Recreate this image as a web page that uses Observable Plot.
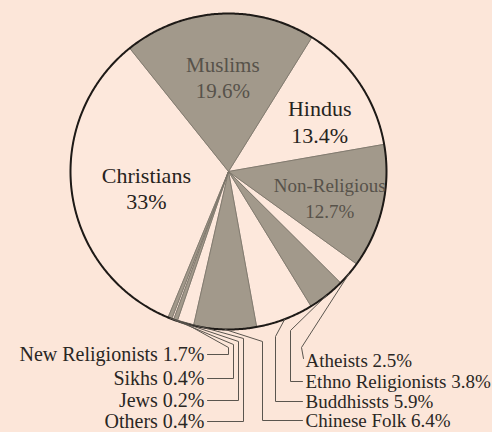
<!DOCTYPE html>
<html><head><meta charset="utf-8">
<script src="https://cdn.jsdelivr.net/npm/d3@7"></script>
<script src="https://cdn.jsdelivr.net/npm/@observablehq/plot@0.6"></script>
<style>html,body{margin:0;padding:0;background:#fce6d9;} #chart{width:492px;height:432px;overflow:hidden;}</style>
</head><body><div id="chart"></div>
<script>
// ---- data ----
const religions = ["Christians","Muslims","Hindus","Non-Religious","Atheists","Ethno Religionists","Buddhissts","Chinese Folk","New Religionists","Sikhs","Jews","Others"];
const shares = [33, 19.6, 13.4, 12.7, 2.5, 3.8, 5.9, 6.4, 1.7, 0.4, 0.2, 0.4];
const shareLabels = ["33%","19.6%","13.4%","12.7%","2.5%","3.8%","5.9%","6.4%","1.7%","0.4%","0.2%","0.4%"];

// ---- layout ----
const W = 492, H = 432, CX = 228, CY = 171, R = 158;
const START = -157.5; // degrees clockwise from 12 o'clock
const X = px => (px - CX) / R, Y = py => (CY - py) / R;
const total = d3.sum(shares);
let acc = START;
const slices = religions.map((name, i) => {
  const a0 = acc, a1 = acc + shares[i] / total * 360; acc = a1;
  return {name, i, a0, a1, mid: (a0 + a1) / 2, label: shareLabels[i], grey: i % 2 === 1};
});
const pt = (deg, r) => { const t = deg * Math.PI / 180; return {x: r * Math.sin(t), y: r * Math.cos(t)}; };
const wedgePts = slices.flatMap(s => {
  const n = Math.max(2, Math.ceil((s.a1 - s.a0) / 0.5));
  const pts = [{name: s.name, grey: s.grey, x: 0, y: 0}];
  for (let k = 0; k <= n; k++) pts.push({name: s.name, grey: s.grey, ...pt(s.a0 + (s.a1 - s.a0) * k / n, 1)});
  pts.push({name: s.name, grey: s.grey, x: 0, y: 0});
  return pts;
});
const circle = d3.range(0, 361, 0.5).map(a => pt(a, 1));

// inner labels: [radius, angle offset, font size, line height]
const innerPos = {"Christians": [0.53, -3, 22, 1.2], "Muslims": [0.6, 0, 21, 1.25], "Hindus": [0.66, 5, 22, 1.2], "Non-Religious": [0.66, 1, 19, 1.35]};
const innerLabels = slices.filter(s => innerPos[s.name]).map(s => {
  const [r, da, fs, lh] = innerPos[s.name];
  return {...pt(s.mid + da, r), text: s.name + "\n" + s.label, grey: s.grey, fs, lh};
});

// outer labels with leaders (pixel layout)
const outerLayout = {
  "Atheists":           {side: "right", ly: 360, path: [[301, 347], [303, 358]]},
  "Ethno Religionists": {side: "right", ly: 381, path: [[290, 330], [290, 381], [302, 381]]},
  "Buddhissts":         {side: "right", ly: 401, path: [[275, 336], [275, 401], [302, 401]]},
  "Chinese Folk":       {side: "right", ly: 420, path: [[262, 341], [262, 420], [302, 420]]},
  "New Religionists":   {side: "left",  ly: 354, path: [[228, 347], [228, 354], [207, 354]]},
  "Sikhs":              {side: "left",  ly: 378, path: [[233, 344], [233, 378], [207, 378]]},
  "Jews":               {side: "left",  ly: 400, path: [[238, 341], [238, 400], [207, 400]]},
  "Others":             {side: "left",  ly: 421, path: [[243, 338], [243, 421], [207, 421]]}
};
const outerLabels = [], leaders = [];
slices.filter(s => outerLayout[s.name]).forEach(s => {
  const L = outerLayout[s.name];
  outerLabels.push({x: X(L.side === "right" ? 305 : 204), y: Y(L.ly), text: s.name + " " + s.label, side: L.side});
  leaders.push({name: s.name, ...pt(s.mid, 1)});
  L.path.forEach(([px, py]) => leaders.push({name: s.name, x: X(px), y: Y(py)}));
});

const font = "Liberation Serif, Times New Roman, serif";
const innerMarks = innerLabels.map(d => Plot.text([d], {x: "x", y: "y", text: "text", fontSize: d.fs, lineHeight: d.lh, fill: d.grey ? "#57524a" : "#262320"}));
const chart = Plot.plot({
  width: W, height: H, margin: 0,
  x: {domain: [X(0), X(W)], axis: null},
  y: {domain: [Y(H), Y(0)], axis: null},
  style: {background: "#fce6d9", fontFamily: font},
  marks: [
    Plot.line(wedgePts.filter(d => !d.grey), {x: "x", y: "y", z: "name", fill: "#fde8dc", stroke: "#8a8378", strokeWidth: 0.8}),
    Plot.line(wedgePts.filter(d => d.grey), {x: "x", y: "y", z: "name", fill: "#a2998b", stroke: "#7a7368", strokeWidth: 0.8}),
    Plot.line(circle, {x: "x", y: "y", stroke: "#1e1a17", strokeWidth: 2}),
    Plot.line(leaders, {x: "x", y: "y", z: "name", stroke: "#5a554e", strokeWidth: 1}),
    ...innerMarks,
    Plot.text(outerLabels.filter(d => d.side === "right"), {x: "x", y: "y", text: "text", textAnchor: "start", fontSize: 19, fill: "#2a2724"}),
    Plot.text(outerLabels.filter(d => d.side === "left"), {x: "x", y: "y", text: "text", textAnchor: "end", fontSize: 20, fill: "#2a2724"})
  ]
});
document.getElementById("chart").appendChild(chart);
</script>
</body></html>
